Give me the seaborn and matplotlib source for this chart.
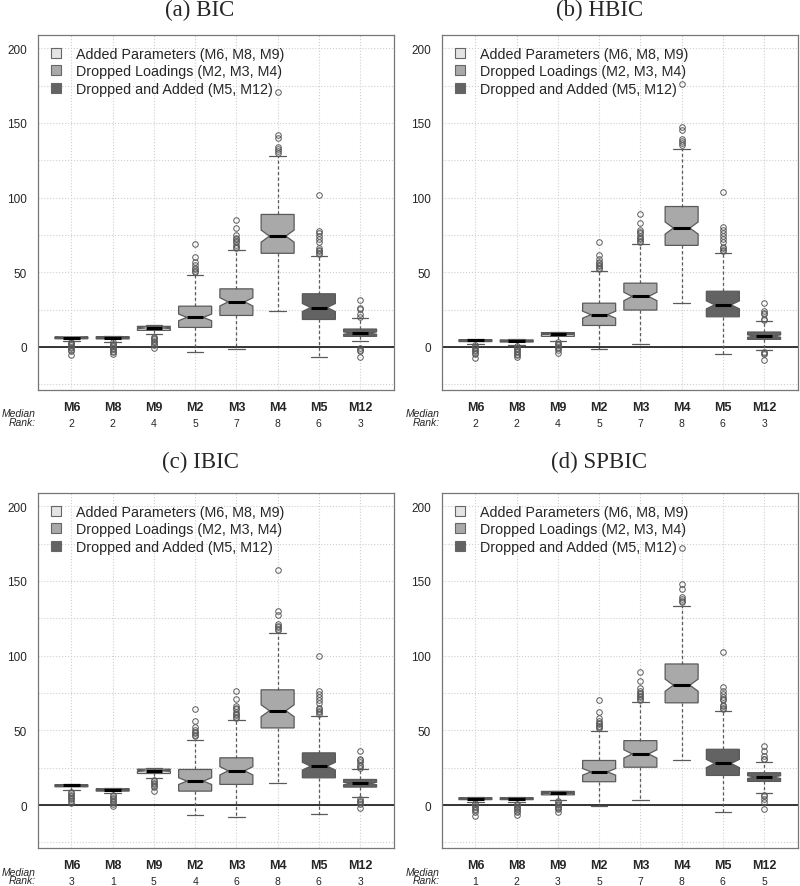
import pandas as pd
import seaborn as sns
import matplotlib.pyplot as plt
from matplotlib.patches import Patch
from matplotlib.ticker import MultipleLocator

models = ["M6", "M8", "M9", "M2", "M3", "M4", "M5", "M12"]
groups = ["Added", "Added", "Added", "Dropped", "Dropped", "Dropped", "Both", "Both"]
group_order = ["Added", "Dropped", "Both"]
group_labels = ["Added Parameters (M6, M8, M9)",
                "Dropped Loadings (M2, M3, M4)",
                "Dropped and Added (M5, M12)"]
group_colors = {"Added": "#e4e4e4", "Dropped": "#a9a9a9", "Both": "#636363"}

# (a) BIC  -- whisker ends, quartiles, median, outliers, median rank
bic_lo = [4.0, 3.5, 8.5, -3.3, -1.1, 24.2, -6.4, 4.0]
bic_q1 = [5.5, 5.4, 11.1, 13.1, 21.1, 62.7, 18.4, 7.1]
bic_med = [6.3, 6.2, 12.7, 19.8, 30.2, 74.2, 26.4, 9.3]
bic_q3 = [6.7, 6.9, 13.8, 27.3, 38.9, 88.7, 35.6, 12.0]
bic_hi = [7.0, 7.2, 14.5, 48.4, 64.9, 127.5, 60.9, 19.3]
bic_out = [[3.2, 2.5, 1.8, 1, 0, -1, -2, -3, -5.3],
           [3.0, 2.2, 1.5, 0.5, -0.5, -1.5, -2.5, -3.5, -4.9],
           [6.8, 6, 5, 4, 3, 2, 1, -0.7],
           [50, 51, 52, 53, 55, 57, 60, 68.9],
           [66, 67, 68, 70, 71, 72, 73, 74.9, 79.3, 85.1],
           [130, 130.9, 132.2, 133.8, 139.8, 142, 170.4],
           [62, 63, 64, 65, 66, 70, 72, 74, 76, 77.8, 101.8],
           [-6.4, -3, -2, -1, 20, 22, 25.6, 26, 31.1]]
bic_rank = [2, 2, 4, 5, 7, 8, 6, 3]

# (b) HBIC
hbic_lo = [1.8, 1.3, 3.8, -1.3, 2.2, 29.6, -4.4, -2.2]
hbic_q1 = [3.6, 3.3, 7.1, 14.4, 24.7, 68.0, 20.2, 5.1]
hbic_med = [4.4, 4.1, 8.7, 21.6, 33.8, 79.6, 28.2, 7.3]
hbic_q3 = [4.9, 4.7, 9.6, 29.3, 42.7, 94.0, 37.3, 10.0]
hbic_hi = [5.2, 5.0, 10.2, 50.7, 68.7, 132.8, 62.7, 17.1]
hbic_out = [[1, 0, -1, -2, -3, -4, -5, -7.5],
            [0.5, -0.5, -1.5, -2.5, -3.5, -4.5, -5.5, -6.4],
            [3, 2, 1, 0, -1, -2, -4],
            [52, 53, 54, 55, 56, 57, 59, 61.8, 70.4],
            [70, 71, 72, 73, 74, 76, 77, 78.4, 82.9, 88.7],
            [135.5, 136.4, 137.6, 138.9, 145.3, 147.3, 175.8],
            [64, 65, 66, 67, 70, 72, 74, 76, 78, 80, 103.8],
            [-8.4, -5, -4.2, -3.5, 18, 19, 22, 23, 23.8, 29.3]]
hbic_rank = [2, 2, 4, 5, 7, 8, 6, 3]

# (c) IBIC
ibic_lo = [10.3, 7.8, 18.0, -6.4, -8.2, 14.4, -6.2, 5.6]
ibic_q1 = [12.2, 9.3, 21.1, 9.3, 13.8, 51.6, 18.2, 12.0]
ibic_med = [13.1, 10.2, 22.9, 16.0, 22.9, 63.1, 26.0, 14.4]
ibic_q3 = [13.6, 10.9, 24.0, 23.8, 31.6, 77.1, 34.9, 17.1]
ibic_hi = [13.9, 11.2, 24.5, 43.6, 57.1, 115.0, 59.5, 24.4]
ibic_out = [[9, 8, 7, 6, 5, 4, 3, 1.3],
            [6.8, 6, 5, 4, 3, 2, 1, -0.8],
            [16.5, 16, 15, 14, 13, 12, 9.3],
            [46, 47, 48, 49, 50, 52, 56, 64.4],
            [58.5, 59, 60, 61, 62, 64, 65, 66, 70.9, 76.4],
            [117, 118, 119, 120, 121, 126.9, 129.8, 157.3],
            [61, 62, 63, 64, 65, 68, 70, 72, 74, 76, 99.8],
            [-1.8, 1, 2, 3, 4, 25, 26, 27, 29, 30, 31, 36.4]]
ibic_rank = [3, 1, 5, 4, 6, 8, 6, 3]

# (d) SPBIC
spbic_lo = [2.2, 1.8, 3.6, -0.4, 3.1, 30.4, -4.9, 8.0]
spbic_q1 = [3.6, 3.6, 6.8, 15.6, 25.3, 68.4, 19.8, 15.8]
spbic_med = [4.2, 4.2, 8.0, 22.2, 34.2, 80.2, 27.8, 18.7]
spbic_q3 = [4.9, 4.9, 9.1, 29.8, 43.1, 94.4, 37.3, 21.6]
spbic_hi = [5.2, 5.2, 9.6, 49.8, 69.1, 133.0, 63.0, 28.7]
spbic_out = [[1.5, 0.5, -0.5, -1.5, -2.5, -3.5, -4.5, -7.6],
             [1, 0, -1, -2, -3, -4, -5, -6.7],
             [3, 2, 1, 0, -1, -2, -3, -4.9],
             [51.5, 52, 53, 54, 55, 56, 58, 62, 70.4],
             [70, 71, 72, 73, 74, 75, 76, 78, 83.1, 88.9],
             [135.6, 136.7, 137.8, 138.9, 144.7, 147.8, 172],
             [64, 65, 66, 67, 70, 71, 72, 74, 76, 79, 102.2],
             [-2.4, 2, 4.2, 6, 6.8, 30.5, 31, 32.7, 36, 39.6]]
spbic_rank = [1, 2, 3, 5, 7, 8, 6, 5]

panels = [
    ("(a) BIC", bic_lo, bic_q1, bic_med, bic_q3, bic_hi, bic_out, bic_rank),
    ("(b) HBIC", hbic_lo, hbic_q1, hbic_med, hbic_q3, hbic_hi, hbic_out, hbic_rank),
    ("(c) IBIC", ibic_lo, ibic_q1, ibic_med, ibic_q3, ibic_hi, ibic_out, ibic_rank),
    ("(d) SPBIC", spbic_lo, spbic_q1, spbic_med, spbic_q3, spbic_hi, spbic_out, spbic_rank),
]
# axes rectangles and title anchors in figure fractions
positions = [(0.047, 0.5592, 0.4454, 0.4002), (0.552, 0.5592, 0.4454, 0.4002),
             (0.047, 0.0428, 0.4454, 0.4002), (0.552, 0.0428, 0.4454, 0.4002)]
title_xy = [(0.25, 0.9887), (0.749, 0.9887), (0.25, 0.4785), (0.749, 0.4785)]


def box_sample(lo, q1, med, q3, hi, out, k=25):
    ''' sample of 4k+1 values whose quartiles / whiskers / fliers match the read stats '''
    low = sorted(v for v in out if v < med) + [lo]
    high = [hi] + sorted(v for v in out if v > med)
    return (low + [q1] * (k - len(low) + 1) + [med] * k
            + [q3] * (2 * k - len(high)) + high)


sns.set_style("white")
plt.rcParams["font.family"] = ["Liberation Sans", "DejaVu Sans"]

fig = plt.figure(figsize=(8, 8.87), dpi=100)

for (title, lo, q1, med, q3, hi, out, rank), rect, txy in zip(panels, positions, title_xy):
    ax = fig.add_axes(rect)
    rows = []
    for i, m in enumerate(models):
        for v in box_sample(lo[i], q1[i], med[i], q3[i], hi[i], out[i]):
            rows.append((m, groups[i], v))
    df = pd.DataFrame(rows, columns=["model", "group", "value"])

    ax.axhline(0, color="black", linewidth=1.1, zorder=1)

    sns.boxplot(data=df, x="model", y="value", hue="group", order=models,
                hue_order=group_order, palette=group_colors, dodge=False,
                width=0.8, notch=True, saturation=1, linecolor="#5a5a5a",
                linewidth=0.9, fliersize=4,
                flierprops=dict(marker="o", markerfacecolor="none", markeredgewidth=0.7),
                whiskerprops=dict(linestyle=(0, (2.5, 2))),
                medianprops=dict(color="black", linewidth=2.2),
                legend=False, ax=ax)

    ax.set_xlim(-0.82, 7.82)
    ax.set_ylim(-28.8, 208.8)
    ax.set_yticks([0, 50, 100, 150, 200])
    ax.yaxis.set_minor_locator(MultipleLocator(25))
    ax.set_axisbelow(True)
    ax.grid(True, axis="both", which="both", linestyle=":", color="#cfcfcf", linewidth=0.8)
    ax.set_xlabel("")
    ax.set_ylabel("")
    ax.set_xticks(range(len(models)))
    ax.set_xticklabels(models, fontweight="bold", fontsize=9)
    ax.tick_params(axis="x", length=4, width=0.8, color="#555555", pad=4)
    ax.tick_params(axis="y", which="major", length=4.5, width=0.8, color="#555555",
                   labelsize=8.5, pad=3)
    ax.tick_params(axis="y", which="minor", length=0)
    for s in ax.spines.values():
        s.set_color("#777777")
        s.set_linewidth(0.9)

    fig.text(txy[0], txy[1], title, fontsize=16.5, ha="center", va="center",
             family=["Liberation Serif", "DejaVu Serif"])

    handles = [Patch(facecolor=group_colors[g], edgecolor="#666666", linewidth=0.8)
               for g in group_order]
    ax.legend(handles, group_labels, loc="upper left", bbox_to_anchor=(0.0213, 0.983),
              frameon=False, fontsize=10.3, handlelength=0.72, handleheight=0.72,
              handletextpad=1.0, labelspacing=0.25, borderaxespad=0.0, borderpad=0.4)

    trans = ax.get_xaxis_transform()
    ax.text(-0.005, -0.078, "Median\nRank:", transform=ax.transAxes, ha="right",
            va="center", multialignment="right", linespacing=0.8,
            style="italic", fontsize=7.5)
    for i, r in enumerate(rank):
        ax.text(i, -0.094, str(r), transform=trans, ha="center", va="center", fontsize=7.5)

fig.savefig("out.png", dpi=100)
